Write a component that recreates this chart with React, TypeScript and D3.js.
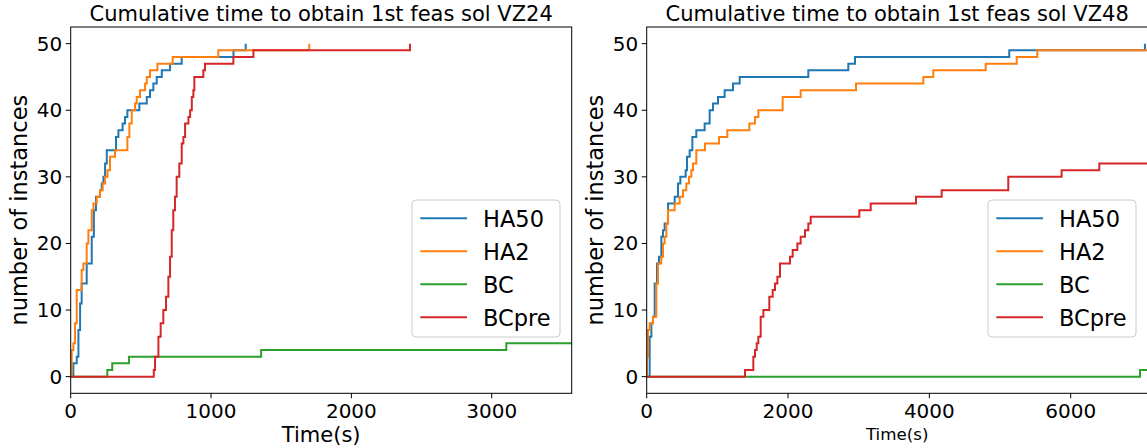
import React from 'react';
import * as d3 from 'd3';

type Pt = [number, number];

const seriesNames = ['HA50', 'HA2', 'BC', 'BCpre'];
const seriesColors = ['#1f77b4', '#ff7f0e', '#2ca02c', '#d62728'];

// VZ24: [time (s), cumulative number of instances]
const vz24HA50: Pt[] = [
  [0, 0], [19, 2], [43, 3], [55, 7], [67, 11], [78, 14], [114, 17], [150, 21], [165, 25], [180, 27],
  [209, 28], [221, 29], [233, 30], [245, 32], [257, 34], [323, 36], [340, 37], [370, 38], [387, 39],
  [404, 40], [489, 41], [542, 42], [565, 43], [589, 44], [613, 45], [649, 46], [708, 47], [791, 48],
  [1160, 49], [1247, 50],
];
const vz24HA2: Pt[] = [
  [0, 0], [7, 4], [19, 5], [31, 8], [43, 13], [78, 16], [90, 17], [114, 20], [126, 22], [150, 25],
  [162, 26], [185, 27], [209, 28], [228, 29], [245, 30], [262, 31], [280, 33], [316, 34], [404, 36],
  [418, 38], [435, 40], [459, 41], [470, 42], [494, 43], [530, 44], [542, 45], [565, 46], [618, 47],
  [727, 48], [1052, 49], [1700, 50],
];
const vz24BC: Pt[] = [
  [0, 0], [261, 1], [296, 2], [415, 3], [1357, 4], [3104, 5], [3700, 5],
];
const vz24BCpre: Pt[] = [
  [0, 0], [592, 1], [601, 3], [625, 6], [641, 8], [660, 10], [679, 12], [696, 15], [708, 18], [720, 22],
  [731, 25], [743, 27], [755, 30], [774, 32], [791, 35], [803, 36], [815, 38], [839, 39], [851, 40],
  [863, 42], [874, 43], [881, 45], [945, 46], [957, 47], [1159, 48], [1302, 49], [2418, 50],
];

// VZ48
const vz48HA50: Pt[] = [
  [0, 0], [42, 6], [66, 8], [89, 9], [113, 14], [146, 17], [174, 18], [207, 21], [231, 22], [254, 23],
  [302, 26], [396, 27], [443, 29], [476, 30], [551, 31], [570, 33], [608, 34], [646, 36], [702, 37],
  [820, 38], [891, 40], [938, 41], [1009, 42], [1103, 43], [1221, 44], [1316, 45], [2287, 46],
  [2853, 47], [2948, 48], [5131, 49], [7051, 50],
];
const vz48HA2: Pt[] = [
  [0, 0], [4, 3], [18, 7], [42, 8], [89, 9], [136, 14], [160, 17], [207, 18], [231, 20], [254, 21],
  [278, 23], [302, 25], [396, 26], [467, 27], [514, 28], [561, 29], [599, 30], [632, 31], [655, 32],
  [702, 34], [825, 35], [1023, 36], [1141, 37], [1452, 38], [1533, 39], [1580, 40], [1924, 42],
  [2179, 43], [2962, 44], [3915, 45], [4056, 46], [4797, 47], [5236, 48], [5528, 49], [7300, 49],
];
const vz48BC: Pt[] = [[0, 0], [6981, 1], [7300, 1]];
const vz48BCpre: Pt[] = [
  [0, 0], [1391, 1], [1509, 3], [1533, 4], [1557, 5], [1580, 6], [1613, 9], [1651, 10], [1735, 12],
  [1783, 13], [1816, 14], [1849, 15], [1886, 17], [2028, 18], [2066, 19], [2132, 20], [2179, 21],
  [2240, 22], [2287, 23], [2321, 24], [3009, 25], [3170, 26], [3811, 27], [4174, 28], [5117, 30],
  [5872, 31], [6405, 32], [7300, 32],
];

const yTicks = [0, 10, 20, 30, 40, 50];
const xTicksVZ24 = [0, 1000, 2000, 3000];
const xTicksVZ48 = [0, 2000, 4000, 6000];

const FONT = '"DejaVu Sans", sans-serif';

interface PanelProps {
  id: string;
  x0: number;
  x1: number;
  xMax: number;
  xTicks: number[];
  title: string;
  xlabelSize: number;
  series: Pt[][];
}

function Panel({ id, x0, x1, xMax, xTicks, title, xlabelSize, series }: PanelProps) {
  const y0 = 27;
  const y1 = 393.3;
  const x = d3.scaleLinear().domain([0, xMax]).range([x0, x1]);
  const y = d3.scaleLinear().domain([-2.5, 52.5]).range([y1, y0]);
  const line = d3
    .line<Pt>()
    .x((d) => x(d[0]))
    .y((d) => y(d[1]))
    .curve(d3.curveStepAfter);
  const legW = 148;
  const legH = 137;
  const legX = x1 - 11.7 - legW;
  const legY = 200;
  return (
    <g>
      <defs>
        <clipPath id={`clip-${id}`}>
          <rect x={x0} y={y0} width={x1 - x0} height={y1 - y0} />
        </clipPath>
      </defs>
      <g clipPath={`url(#clip-${id})`}>
        {series.map((s, i) => (
          <path key={i} d={line(s) || ''} fill="none" stroke={seriesColors[i]} strokeWidth={2} />
        ))}
      </g>
      <rect x={x0} y={y0} width={x1 - x0} height={y1 - y0} fill="none" stroke="#000" strokeWidth={1} />
      {yTicks.map((t) => (
        <g key={`y${t}`}>
          <line x1={x0 - 5} x2={x0} y1={y(t)} y2={y(t)} stroke="#000" strokeWidth={1} />
          <text x={x0 - 8.5} y={y(t)} dy="0.35em" textAnchor="end" fontSize={20} fontFamily={FONT} fill="#000">
            {t}
          </text>
        </g>
      ))}
      {xTicks.map((t) => (
        <g key={`x${t}`}>
          <line x1={x(t)} x2={x(t)} y1={y1} y2={y1 + 5} stroke="#000" strokeWidth={1} />
          <text x={x(t)} y={418.3} textAnchor="middle" fontSize={20} fontFamily={FONT} fill="#000">
            {t}
          </text>
        </g>
      ))}
      <text x={(x0 + x1) / 2} y={20.7} textAnchor="middle" fontSize={21} fontFamily={FONT} fill="#000">
        {title}
      </text>
      <text
        x={(x0 + x1) / 2}
        y={xlabelSize > 18 ? 441.5 : 439.5}
        textAnchor="middle"
        fontSize={xlabelSize}
        fontFamily={FONT}
        fill="#000"
      >
        Time(s)
      </text>
      <text
        transform={`translate(${x0 - 44},${(y0 + y1) / 2}) rotate(-90)`}
        textAnchor="middle"
        fontSize={22.5}
        fontFamily={FONT}
        fill="#000"
      >
        number of instances
      </text>
      <rect
        x={legX}
        y={legY}
        width={legW}
        height={legH}
        rx={4}
        fill="#fff"
        fillOpacity={0.8}
        stroke="#cccccc"
        strokeWidth={1}
      />
      {seriesNames.map((n, i) => {
        const ly = 218.3 + i * 33;
        return (
          <g key={n}>
            <line x1={legX + 8.3} x2={legX + 55} y1={ly} y2={ly} stroke={seriesColors[i]} strokeWidth={2} />
            <text x={legX + 71} y={ly + 8.4} fontSize={22.5} fontFamily={FONT} fill="#000">
              {n}
            </text>
          </g>
        );
      })}
    </g>
  );
}

export default function App() {
  return (
    <svg
      width={1147}
      height={448}
      style={{ position: 'absolute', left: 0, top: 0, background: '#fff' }}
    >
      <rect x={0} y={0} width={1147} height={448} fill="#fff" />
      <Panel
        id="vz24"
        x0={70.7}
        x1={571.7}
        xMax={3570}
        xTicks={xTicksVZ24}
        title="Cumulative time to obtain 1st feas sol VZ24"
        xlabelSize={21}
        series={[vz24HA50, vz24HA2, vz24BC, vz24BCpre]}
      />
      <Panel
        id="vz48"
        x0={646.7}
        x1={1147.7}
        xMax={7090}
        xTicks={xTicksVZ48}
        title="Cumulative time to obtain 1st feas sol VZ48"
        xlabelSize={16.7}
        series={[vz48HA50, vz48HA2, vz48BC, vz48BCpre]}
      />
    </svg>
  );
}
